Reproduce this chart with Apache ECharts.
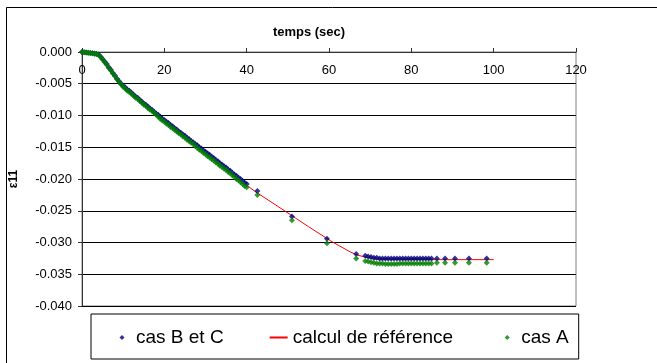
<!DOCTYPE html>
<html>
<head>
<meta charset="utf-8">
<script src="https://cdn.jsdelivr.net/npm/echarts@6/dist/echarts.min.js"></script>
<style>
html,body{margin:0;padding:0;background:#fff;}
#c{width:657px;height:363px;}
</style>
</head>
<body>
<div id="c"></div>
<script>
// ---- data ----
const xTicks = [0, 20, 40, 60, 80, 100, 120];
const yTicks = [0, -0.005, -0.010, -0.015, -0.020, -0.025, -0.030, -0.035, -0.040];

const timeDense = [0,0.5,1,1.5,2,2.5,3,3.5,4,4.5,5,5.5,6,6.5,7,7.5,8,8.5,9,9.5,10,10.5,11,11.5,12,12.5,13,13.5,14,14.5,15,15.5,16,16.5,17,17.5,18,18.5,19,19.5,20,20.5,21,21.5,22,22.5,23,23.5,24,24.5,25,25.5,26,26.5,27,27.5,28,28.5,29,29.5,30,30.5,31,31.5,32,32.5,33,33.5,34,34.5,35,35.5,36,36.5,37,37.5,38,38.5,39,39.5,40];
const timeLate = [42.6,51.0,59.5,66.6,68.8,69.5,70.2,70.9,71.6,72.3,73.0,73.7,74.4,75.1,75.8,76.5,77.2,77.9,78.6,79.3,80.0,80.7,81.4,82.1,82.8,83.5,84.2,84.9,86.2,88.2,90.6,94.0,98.3];

const casBC_dense = [0,-0.00004,-0.00008,-0.00012,-0.00016,-0.0002,-0.00024,-0.0003,-0.0004,-0.0007,-0.0011,-0.0015,-0.0019,-0.0024,-0.0028,-0.0033,-0.0037,-0.0042,-0.0046,-0.0050,-0.0053,-0.0056,-0.0059,-0.0061,-0.0064,-0.0067,-0.0070,-0.0072,-0.0075,-0.0078,-0.0081,-0.0083,-0.0086,-0.0089,-0.0091,-0.0094,-0.0097,-0.0099,-0.0102,-0.0105,-0.0107,-0.0110,-0.0112,-0.0115,-0.0117,-0.0120,-0.0122,-0.0125,-0.0127,-0.0130,-0.0132,-0.0135,-0.0137,-0.0140,-0.0142,-0.0145,-0.0147,-0.0150,-0.0152,-0.0155,-0.0157,-0.0160,-0.0162,-0.0165,-0.0167,-0.0170,-0.0172,-0.0175,-0.0177,-0.0180,-0.0182,-0.0185,-0.0187,-0.0190,-0.0193,-0.0195,-0.0198,-0.0200,-0.0203,-0.0206,-0.0208];
const casBC_late = [-0.0219,-0.0259,-0.0294,-0.0318,-0.0321,-0.0322,-0.0323,-0.0324,-0.0324,-0.0325,-0.0325,-0.0325,-0.0325,-0.0325,-0.0325,-0.0325,-0.0325,-0.0325,-0.0325,-0.0325,-0.0325,-0.0325,-0.0325,-0.0325,-0.0325,-0.0325,-0.0325,-0.0325,-0.0325,-0.0325,-0.0325,-0.0325,-0.0325];

const casA_dense = [0,-0.00004,-0.00008,-0.00012,-0.00017,-0.00021,-0.00026,-0.00032,-0.00043,-0.0008,-0.0012,-0.0016,-0.0020,-0.0025,-0.0029,-0.0034,-0.0038,-0.0043,-0.0047,-0.0051,-0.0055,-0.0058,-0.0061,-0.0063,-0.0066,-0.0069,-0.0072,-0.0074,-0.0077,-0.0080,-0.0083,-0.0085,-0.0088,-0.0091,-0.0093,-0.0096,-0.0099,-0.0102,-0.0105,-0.0108,-0.0110,-0.0113,-0.0115,-0.0118,-0.0120,-0.0123,-0.0125,-0.0128,-0.0130,-0.0133,-0.0135,-0.0138,-0.0140,-0.0143,-0.0145,-0.0148,-0.0151,-0.0154,-0.0156,-0.0159,-0.0161,-0.0164,-0.0166,-0.0169,-0.0171,-0.0174,-0.0176,-0.0179,-0.0181,-0.0184,-0.0186,-0.0189,-0.0191,-0.0194,-0.0197,-0.0200,-0.0202,-0.0205,-0.0208,-0.0211,-0.0213];
const casA_late = [-0.0225,-0.0265,-0.0301,-0.0325,-0.0329,-0.0330,-0.0331,-0.0332,-0.0333,-0.0333,-0.0333,-0.0334,-0.0334,-0.0334,-0.0334,-0.0334,-0.0333,-0.0333,-0.0333,-0.0333,-0.0333,-0.0333,-0.0333,-0.0333,-0.0333,-0.0333,-0.0333,-0.0333,-0.0332,-0.0332,-0.0332,-0.0332,-0.0332];

const timeRef = [0,4,9,18,28,38,40,42.6,49.2,55,60.8,65.2,67,68.8,71,74,100];
const calcRef = [0,-0.0005,-0.0049,-0.0098,-0.0149,-0.0200,-0.0210,-0.0222,-0.0250,-0.0275,-0.0299,-0.0315,-0.0320,-0.0323,-0.0326,-0.0327,-0.0327];

const seriesNames = ['cas B et C', 'calcul de référence', 'cas A'];
const xTitle = 'temps (sec)';
const yTitle = 'ε11';

// ---- build ----
function pairs(t, v) { return t.map((x, i) => [x, v[i]]); }
const dataBC = pairs(timeDense.concat(timeLate), casBC_dense.concat(casBC_late));
const dataA = pairs(timeDense.concat(timeLate), casA_dense.concat(casA_late));
const dataRef = pairs(timeRef, calcRef);

const chart = echarts.init(document.getElementById('c'), null, {renderer: 'canvas'});
const FONT = 'Arial, "Liberation Sans", sans-serif';

// diamond icon padded inside an 18x6 box so it is not stretched
const ICON_DIAMOND = 'path://M0,0 M18,6 M9,0.5 L11.5,3 L9,5.5 L6.5,3 Z';

chart.setOption({
  animation: false,
  backgroundColor: '#ffffff',
  textStyle: {fontFamily: FONT},
  graphic: [
    {type: 'rect', shape: {x: 6.5, y: 7.5, width: 700, height: 400}, style: {fill: 'none', stroke: '#000', lineWidth: 1}, z: -10, silent: true},
    {type: 'text', x: 309, y: 32, style: {text: xTitle, font: 'bold 13px ' + FONT, fill: '#000', textAlign: 'center', textVerticalAlign: 'middle'}}
  ],
  grid: {left: 78, right: 81, top: 52, bottom: 57, show: true, borderColor: '#808080', borderWidth: 1, backgroundColor: 'transparent'},
  legend: {
    left: 91, top: 314, width: 502, height: 46,
    orient: 'horizontal',
    padding: [14, 10, 12, 22],
    itemGap: 45,
    itemWidth: 18, itemHeight: 6,
    borderColor: '#000', borderWidth: 1,
    textStyle: {fontSize: 19, color: '#000', fontFamily: FONT},
    data: [
      {name: seriesNames[0], icon: ICON_DIAMOND, itemStyle: {color: '#000080', borderWidth: 0}},
      seriesNames[1],
      {name: seriesNames[2], icon: ICON_DIAMOND, itemStyle: {color: '#008000', borderWidth: 0}}
    ]
  },
  xAxis: {
    type: 'value', position: 'top', min: 0, max: 120, interval: 20,
    axisLine: {show: true, onZero: false, lineStyle: {color: '#333', width: 1}},
    axisTick: {show: true, inside: false, length: 4, lineStyle: {color: '#333'}},
    axisLabel: {inside: true, margin: 12, fontSize: 13, color: '#000', fontFamily: FONT,
      alignMinLabel: 'center', alignMaxLabel: 'center',
      formatter: v => xTicks.indexOf(v) >= 0 ? String(v) : ''},
    splitLine: {show: false}
  },
  yAxis: {
    type: 'value', min: -0.04, max: 0, interval: 0.005,
    name: yTitle, nameLocation: 'middle', nameGap: 62, nameRotate: 90,
    nameTextStyle: {fontSize: 12, fontWeight: 'bold', color: '#000', fontFamily: FONT},
    axisLine: {show: true, onZero: false, lineStyle: {color: '#333', width: 1}},
    axisTick: {show: true, inside: false, length: 4, lineStyle: {color: '#333'}},
    axisLabel: {margin: 10, fontSize: 13, color: '#000', fontFamily: FONT,
      formatter: v => { const t = yTicks.find(k => Math.abs(k - v) < 1e-9); return t === undefined ? '' : t.toFixed(3); }},
    splitLine: {show: true, lineStyle: {color: '#000', width: 1}}
  },
  series: [
    {name: seriesNames[0], type: 'scatter', data: dataBC, symbol: 'diamond', symbolSize: 6,
      itemStyle: {color: '#000080'}, z: 3},
    {name: seriesNames[1], type: 'line', data: dataRef, symbol: 'line', showSymbol: false,
      lineStyle: {color: '#ff0000', width: 1}, itemStyle: {color: '#ff0000'}, z: 2},
    {name: seriesNames[2], type: 'scatter', data: dataA, symbol: 'diamond', symbolSize: 6,
      itemStyle: {color: '#008000'}, z: 4}
  ]
});
</script>
</body>
</html>
